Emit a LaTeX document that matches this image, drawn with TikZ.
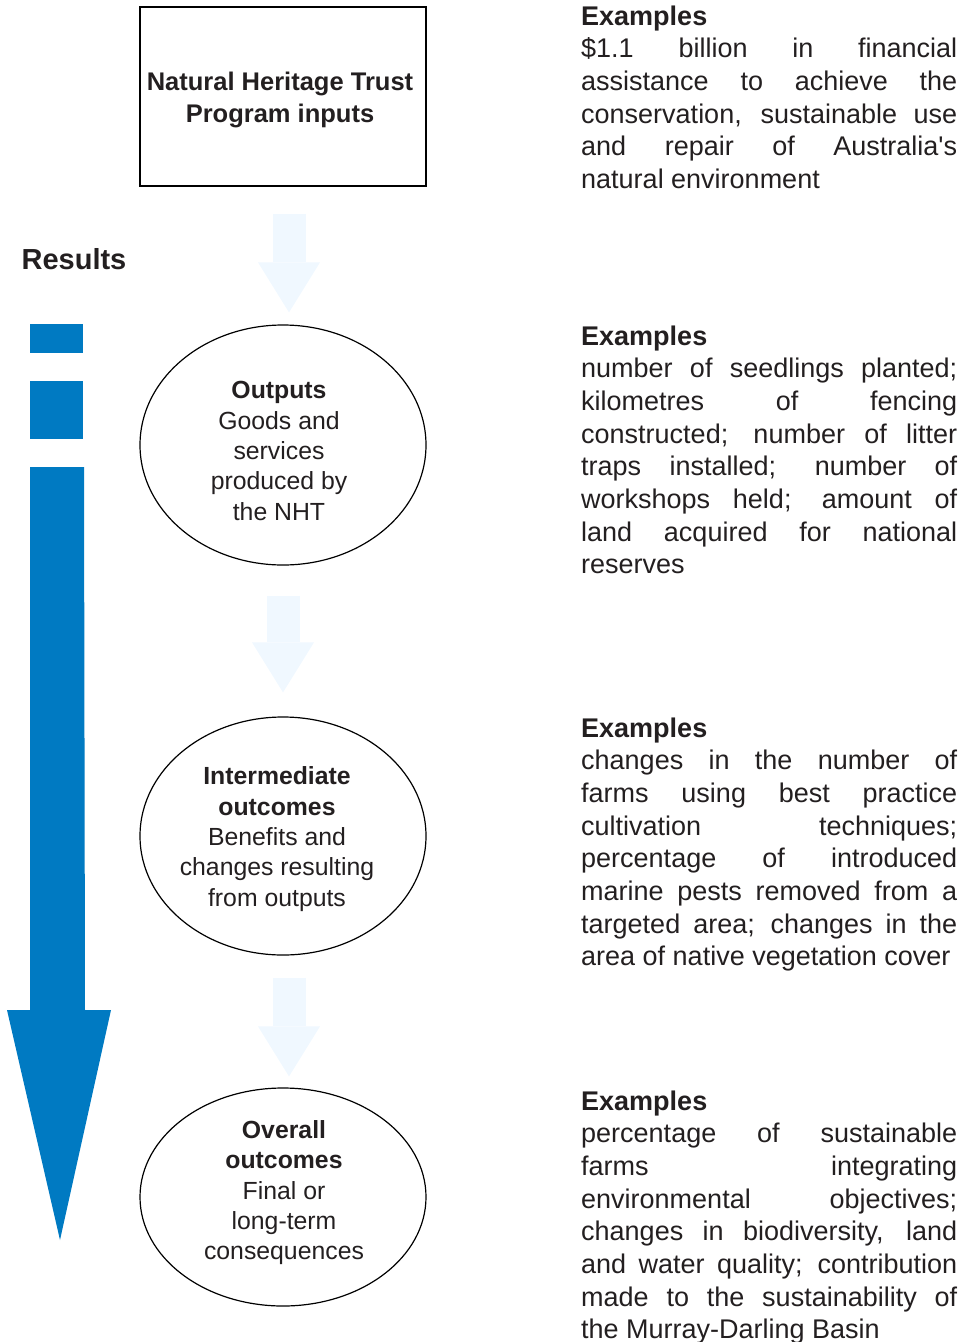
\documentclass[tikz,border=0pt]{standalone}
\usepackage{fontspec}
\setmainfont{Liberation Sans}
\usetikzlibrary{shapes.geometric,arrows.meta}

\definecolor{resultblue}{RGB}{0,122,194}
\definecolor{paleblue}{RGB}{240,248,255}
\definecolor{inktext}{RGB}{35,31,32}

\tolerance=10000
\hbadness=10000

% centred lines, nudged by (#1,#2) inside their shape
\newcommand{\nudged}[3]{\hspace*{#1}\raisebox{#2}[\height][\depth]{\begin{tabular}{@{}c@{}}#3\end{tabular}}}

\begin{document}
\begin{tikzpicture}[x = 1pt, y = -1pt,
        stage/.style    = {ellipse, draw, line width = 1.2pt, minimum width = 286pt,
                           inner xsep = -3pt, inner ysep = 0pt, align = center, text = inktext,
                           font = \fontsize{24.8}{30.3}\selectfont},
        examples/.style = {anchor = base west, inner sep = 0pt, text width = 376pt,
                           align = justify, text = inktext,
                           font = \fontsize{27}{32.7}\selectfont},
        flow/.style     = {paleblue, line width = 33pt,
                           -{Triangle[width = 62pt, length = 50pt, line width = 0pt]}}]
                   \useasboundingbox (0,0) rectangle (965,1342);

                   % program chain
                   \node[draw, line width = 1.2pt, minimum width = 286pt, minimum height = 179pt,
                         inner sep = 0pt, align = center, text = inktext,
                         font = \bfseries\fontsize{25.5}{32}\selectfont]
                         (inputs) at (283,96.5) {\nudged{-6pt}{-3.5pt}{Natural Heritage Trust\\Program inputs}};
                   \node[stage, minimum height = 240pt] (outputs) at (283,445)
                         {\nudged{-8pt}{-8.5pt}{\textbf{Outputs}\\Goods and\\services\\produced by\\the NHT}};
                   \node[stage, minimum height = 238pt] (intermediate) at (283,836)
                         {\nudged{-12pt}{-3.5pt}{\textbf{Intermediate}\\\textbf{outcomes}\\Benefits and\\changes resulting\\from outputs}};
                   \node[stage, minimum height = 218pt] (overall) at (283,1197)
                         {\nudged{2pt}{4pt}{\textbf{Overall}\\\textbf{outcomes}\\Final or\\long-term\\consequences}};

                   \draw[flow] ([xshift = 6pt, yshift = -27pt]inputs.south) -- ([xshift = 6pt, yshift = 12pt]outputs.north);
                   \draw[flow] ([yshift = -30pt]outputs.south) -- ([yshift = 24pt]intermediate.north);
                   \draw[flow] ([xshift = 6pt, yshift = -22pt]intermediate.south) -- ([xshift = 6pt, yshift = 11pt]overall.north);

                   % results arrow
                   \node[text = inktext, font = \bfseries\fontsize{29}{34}\selectfont] (results) at (74,259) {Results};
                   \fill[resultblue] (30,324) rectangle (83,353);
                   \fill[resultblue] (30,381) rectangle (83,439);
                   \fill[resultblue] (30,467) -- (84,467) -- (85,1010) -- (111,1010)
                                     -- (60,1240) -- (7,1010) -- (30,1010) -- cycle;

                   % examples
                   \node[examples] (exinputs) at (581,25) {\textbf{Examples}\\
                         \$1.1 billion in financial\linebreak assistance to achieve the\linebreak
                         conservation, sustainable use\linebreak and repair of Australia\textquotesingle s\linebreak
                         natural environment};
                   \node[examples] (exoutputs) at (581,345) {\textbf{Examples}\\
                         number of seedlings planted;\linebreak kilometres of fencing\linebreak
                         constructed; number of litter\linebreak traps installed; number of\linebreak
                         workshops held; amount of\linebreak land acquired for national\linebreak
                         reserves};
                   \node[examples] (exintermediate) at (581,737) {\textbf{Examples}\\
                         changes in the number of\linebreak farms using best practice\linebreak
                         cultivation techniques;\linebreak percentage of introduced\linebreak
                         marine pests removed from a\linebreak targeted area; changes in the\linebreak
                         area of native vegetation cover};
                   \node[examples] (exoverall) at (581,1110) {\textbf{Examples}\\
                         percentage of sustainable\linebreak farms integrating\linebreak
                         environmental objectives;\linebreak changes in biodiversity, land\linebreak
                         and water quality; contribution\linebreak made to the sustainability of\linebreak
                         the Murray-Darling Basin};
        \end{tikzpicture}
\end{document}
